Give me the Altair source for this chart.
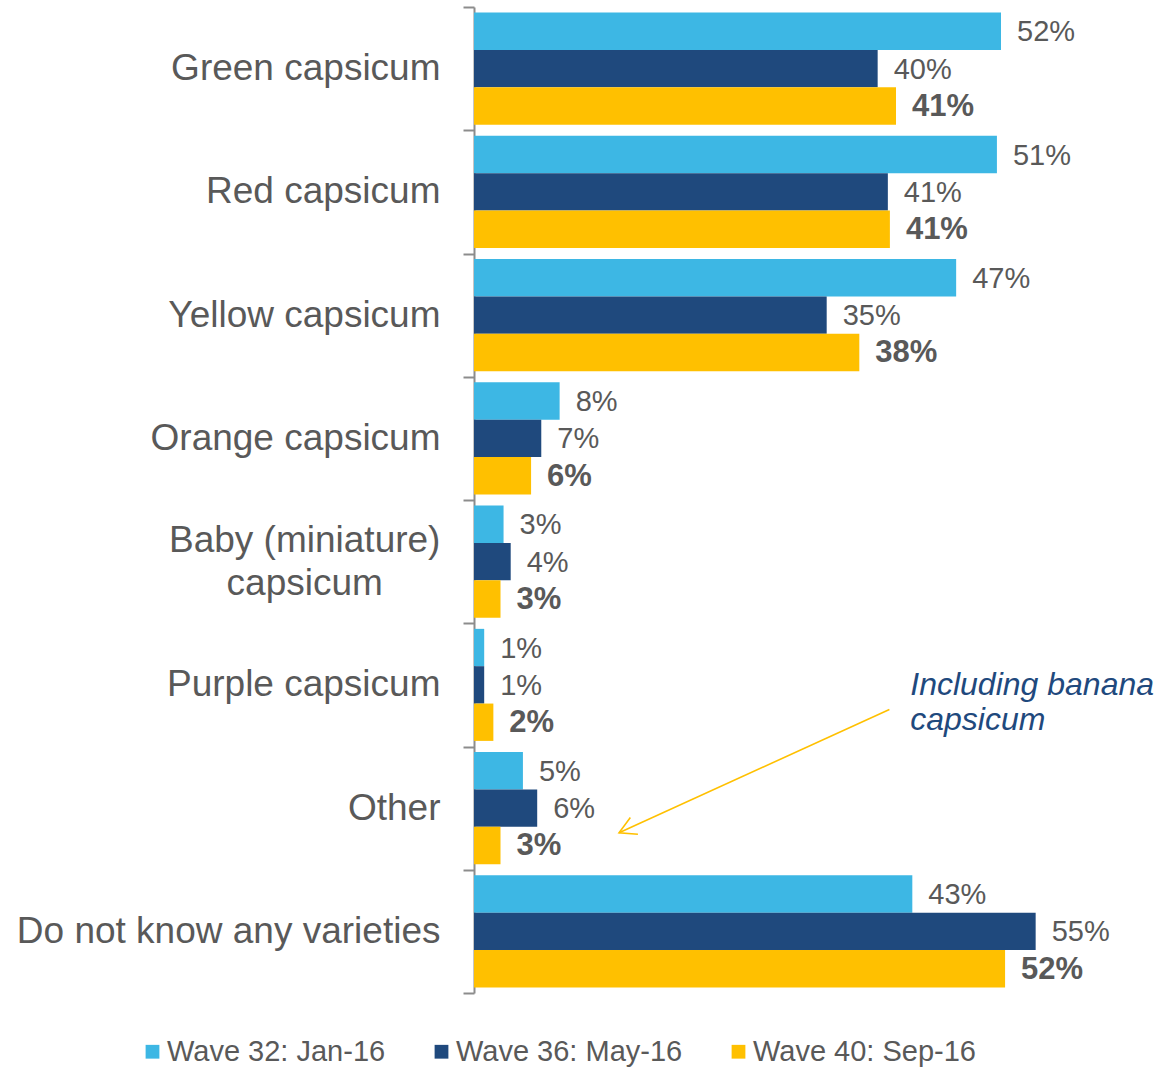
import math
import altair as alt
import pandas as pd

# ---------------- data ----------------
categories = [
    "Green capsicum",
    "Red capsicum",
    "Yellow capsicum",
    "Orange capsicum",
    "Baby (miniature) capsicum",
    "Purple capsicum",
    "Other",
    "Do not know any varieties",
]
series = ["Wave 32: Jan-16", "Wave 36: May-16", "Wave 40: Sep-16"]
wave32 = [51.7, 51.3, 47.3, 8.4, 2.9, 1.0, 4.8, 43.0]
wave36 = [39.6, 40.6, 34.6, 6.6, 3.6, 1.0, 6.2, 55.1]
wave40 = [41.4, 40.8, 37.8, 5.6, 2.6, 1.9, 2.6, 52.1]
colors = ["#3DB7E4", "#1F497D", "#FFC000"]

two_line_label = ["Baby (miniature)", "capsicum"]

note_lines = ["Including banana", "capsicum"]
# annotation: arrow from a point in the "Purple" band to a point in the "Other" band
arrow_cats = [categories[5], categories[6]]
arrow_x = [40.75, 14.23]          # percent
arrow_band = 0.70                 # position inside each band
note_cat = categories[5]
note_x = 42.8
note_band = 0.58

# ---------------- layout constants ----------------
W, H = 685, 986
X_MAX = 67.2
GREY = "#595959"
AXIS_GREY = "#8C8C8C"
FONT = "Liberation Sans"
LABEL_SIZE = 37

rows = []
for s, vals in zip(series, [wave32, wave36, wave40]):
    for c, v in zip(categories, vals):
        rows.append({"category": c, "series": s, "value": v})
df = pd.DataFrame(rows)

arrow_df = pd.DataFrame({"category": arrow_cats, "x": arrow_x, "order": [0, 1]})
tip_df = pd.DataFrame({"category": [arrow_cats[1]], "x": [arrow_x[1]]})
note_df = pd.DataFrame({"category": [note_cat], "x": [note_x]})

xscale = alt.Scale(domain=[0, X_MAX], nice=False, zero=True)
yband = alt.Scale(paddingInner=0, paddingOuter=0)
yoff = alt.Scale(paddingInner=0, paddingOuter=0.15)

two_cat = categories[4]
label_expr = (
    f"datum.label == '{two_cat}' ? "
    f"['{two_line_label[0]}', '{two_line_label[1]}'] : datum.label"
)
is_two = f"datum.label == '{two_cat}'"

# half width of the longer line of the two-line label (Arial metrics, em units)
half_line_px = 7.339 * LABEL_SIZE / 2

yaxis = alt.Axis(
    title=None,
    domainColor=AXIS_GREY, domainWidth=2,
    tickColor=AXIS_GREY, tickWidth=2, tickSize=11, tickBand="extent",
    labelFont=FONT, labelFontSize=LABEL_SIZE, labelColor=GREY,
    labelLimit=600, labelOverlap=False,
    labelExpr=label_expr, labelLineHeight=43,
    labelPadding={"condition": {"test": is_two, "value": 23 + half_line_px}, "value": 23},
    labelAlign={"condition": {"test": is_two, "value": "center"}, "value": "right"},
    labelOffset={"condition": {"test": is_two, "value": -21}, "value": 0},
)


def Y(**kw):
    return alt.Y("category:N", sort=categories, scale=yband, axis=yaxis, **kw)


def X(field):
    return alt.X(field, scale=xscale, axis=None)


base = alt.Chart(df)

bars = base.mark_bar().encode(
    x=X("value:Q"),
    y=Y(),
    yOffset=alt.YOffset("series:N", sort=series, scale=yoff),
    color=alt.Color(
        "series:N", sort=series,
        scale=alt.Scale(domain=series, range=colors),
        legend=alt.Legend(
            title=None, orient="none", legendX=-336, legendY=1030,
            direction="horizontal", symbolType="square", symbolSize=190,
            symbolStrokeWidth=0, symbolOpacity=1,
            labelFont=FONT, labelFontSize=29, labelColor=GREY,
            labelOffset=0, columnPadding=41, padding=0, labelLimit=400,
        ),
    ),
)


def value_labels(bold):
    cond = alt.datum.series == series[2] if bold else alt.datum.series != series[2]
    return base.transform_filter(cond).transform_calculate(
        lab="format(datum.value, '.0f') + '%'"
    ).mark_text(
        align="left", baseline="middle", dx=16, dy=1, font=FONT,
        fontSize=31 if bold else 29,
        color=GREY, fontWeight="bold" if bold else "normal",
    ).encode(
        x=X("value:Q"),
        y=Y(),
        yOffset=alt.YOffset("series:N", sort=series, scale=yoff),
        text="lab:N",
    )


# arrow head angle, derived from the data points and the scales
dx_px = (arrow_x[1] - arrow_x[0]) * W / X_MAX
dy_px = H / len(categories)
head_angle = math.degrees(math.atan2(dy_px, dx_px)) % 360

line = alt.Chart(arrow_df).mark_line(color="#FFC000", strokeWidth=1.6).encode(
    x=X("x:Q"),
    y=Y(bandPosition=arrow_band),
    order="order:Q",
)
head = alt.Chart(tip_df).mark_point(
    shape="M -1 -0.55 L 0 0 L -1 0.55", filled=False, color="#FFC000",
    strokeWidth=1.6, size=1100, angle=head_angle, opacity=1,
).encode(
    x=X("x:Q"),
    y=Y(bandPosition=arrow_band),
)
note = alt.Chart(note_df).mark_text(
    text=note_lines, align="left", baseline="alphabetic", font=FONT,
    fontSize=32, fontStyle="italic", color="#1F497D", lineHeight=35,
).encode(
    x=X("x:Q"),
    y=Y(bandPosition=note_band),
)

chart = alt.layer(
    bars, value_labels(False), value_labels(True), line, head, note,
).properties(
    width=W, height=H,
    padding={"left": 474, "top": 7, "right": 0, "bottom": 75},
    autosize=alt.AutoSizeParams(type="none"),
).configure(font=FONT).configure_view(stroke=None)

chart.save("out.html", embed_options={"renderer": "svg", "actions": False})
